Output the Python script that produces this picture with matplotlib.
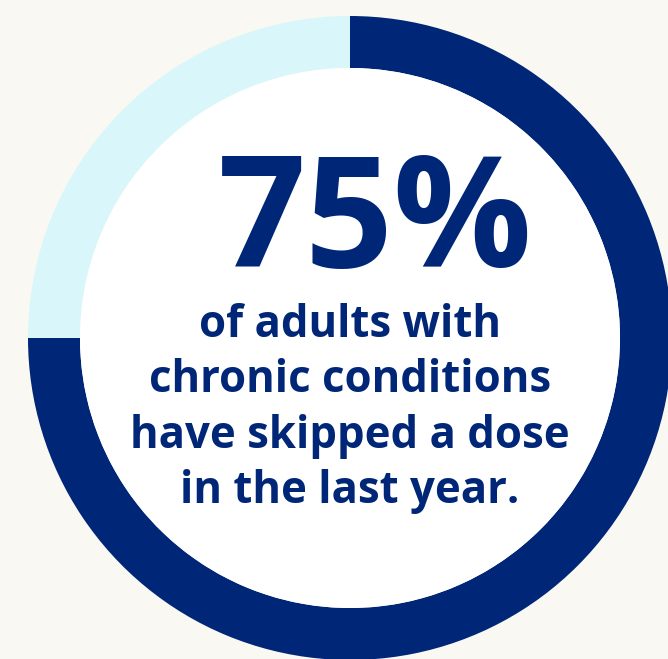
import matplotlib.pyplot as plt
from matplotlib.patches import Circle

# share of adults with chronic conditions who skipped a dose
values = [75, 25]
colors = ['#002677', '#d9f6fa']
big_label = '75%'
lines = ['of adults with', 'chronic conditions', 'have skipped a dose', 'in the last year.']

bg = '#f9f8f3'
navy = '#002677'

fig = plt.figure(figsize=(6.68, 6.59), dpi=100, facecolor=bg)
ax = fig.add_axes([0, 0, 1, 1])
ax.set_facecolor(bg)

cx, cy = 350, 659 - 338
ax.pie(values, colors=colors, startangle=90, counterclock=False,
       radius=322, center=(cx, cy),
       wedgeprops=dict(width=52, linewidth=0))
ax.add_patch(Circle((cx, cy), 270, facecolor='white', edgecolor='none'))

ax.text(375, 659 - 267, big_label, ha='center', va='baseline',
        fontsize=111, fontweight='bold', family='Open Sans', color=navy)

baselines = [337, 392, 448, 503]
for txt, yb in zip(lines, baselines):
    ax.text(350, 659 - yb, txt, ha='center', va='baseline',
            fontsize=31.5, fontweight='bold', family='Open Sans', color=navy)

ax.set_xlim(0, 668)
ax.set_ylim(0, 659)
ax.set_aspect('equal')
ax.axis('off')

fig.savefig('out.png', dpi=100, facecolor=bg)
